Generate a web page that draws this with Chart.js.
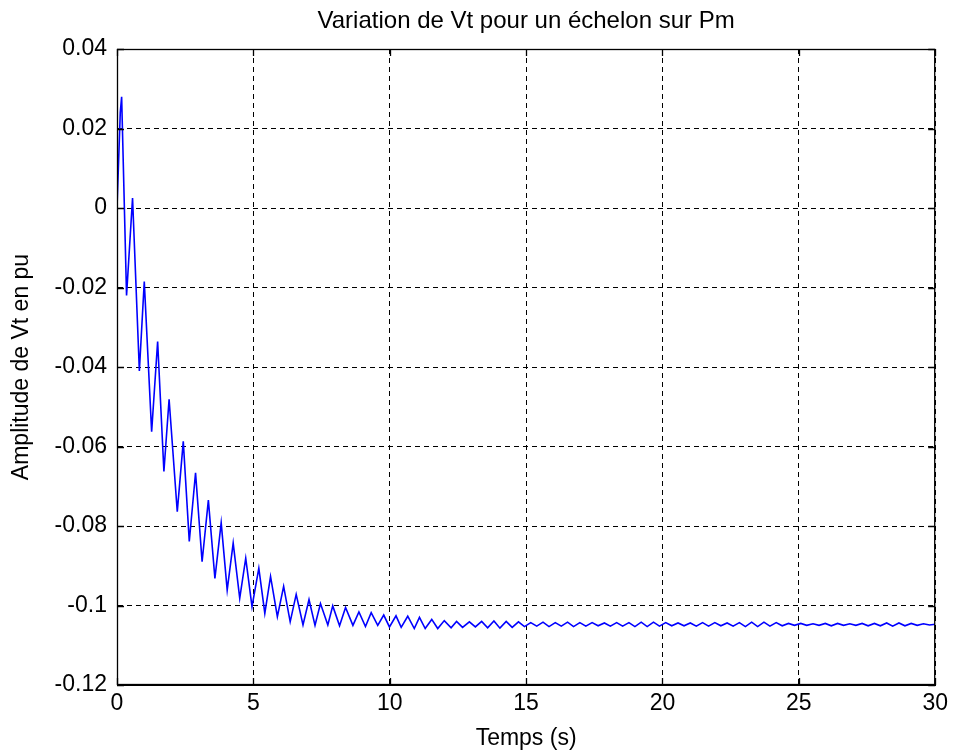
<!DOCTYPE html>
<html>
<head>
<meta charset="utf-8">
<script src="https://cdn.jsdelivr.net/npm/chart.js@4"></script>
<style>
  html, body { margin: 0; padding: 0; background: #fff; }
  canvas { display: block; }
</style>
</head>
<body>
<canvas id="chart-vt" width="953" height="755"></canvas>
<script>
const titleText = 'Variation de Vt pour un échelon sur Pm';
const xLabel = 'Temps (s)';
const yLabel = 'Amplitude de Vt en pu';

// x axis ticks (s) and y axis ticks (pu)
const xTicks = [0, 5, 10, 15, 20, 25, 30];
const yTicks = [-0.12, -0.1, -0.08, -0.06, -0.04, -0.02, 0, 0.02, 0.04];

// peaks and troughs of Vt
const times = [
    0, 0.05, 0.12, 0.17, 0.35, 0.57, 0.82, 1.00, 1.27, 1.49,
    1.72, 1.91, 2.21, 2.43, 2.65, 2.88, 3.12, 3.35, 3.59, 3.82,
    4.04, 4.26, 4.50, 4.72, 4.95, 5.20, 5.42, 5.63, 5.88, 6.11,
    6.35, 6.57, 6.82, 7.04, 7.26, 7.46, 7.73, 7.91, 8.16, 8.38,
    8.65, 8.87, 9.11, 9.32, 9.56, 9.78, 9.99, 10.23, 10.42, 10.66,
    10.90, 11.09, 11.30, 11.54, 11.76, 12.00, 12.25, 12.45, 12.67, 12.92,
    13.14, 13.37, 13.59, 13.82, 14.04, 14.27, 14.49, 14.72, 14.94, 15.17,
    15.39, 15.62, 15.84, 16.07, 16.29, 16.52, 16.74, 16.97, 17.19, 17.42,
    17.64, 17.87, 18.09, 18.32, 18.54, 18.77, 18.99, 19.22, 19.44, 19.67,
    19.89, 20.12, 20.34, 20.57, 20.79, 21.02, 21.24, 21.47, 21.69, 21.92,
    22.14, 22.37, 22.59, 22.82, 23.04, 23.27, 23.49, 23.72, 23.94, 24.17,
    24.39, 24.62, 24.84, 25.07, 25.29, 25.52, 25.74, 25.97, 26.19, 26.42,
    26.64, 26.87, 27.09, 27.32, 27.54, 27.77, 27.99, 28.22, 28.44, 28.67,
    28.89, 29.12, 29.34, 29.57, 29.79, 30.00,
];
const vt = [
    0, 0.010, 0.024, 0.028, -0.022, 0.0025, -0.041, -0.0185, -0.0563, -0.0336,
    -0.0663, -0.0481, -0.0764, -0.0587, -0.0839, -0.0666, -0.0890, -0.0735, -0.0932, -0.0792,
    -0.0961, -0.0843, -0.0982, -0.0881, -0.1003, -0.0906, -0.1020, -0.0927, -0.1028, -0.0952,
    -0.1041, -0.0972, -0.1049, -0.0985, -0.1050, -0.0995, -0.1049, -0.1001, -0.1051, -0.1005,
    -0.1050, -0.1016, -0.1053, -0.1018, -0.1050, -0.1024, -0.1054, -0.1026, -0.1055, -0.1027,
    -0.1058, -0.1030, -0.1058, -0.1035, -0.1058, -0.1038, -0.1056, -0.1040, -0.1055, -0.1041,
    -0.1054, -0.1040, -0.1056, -0.1039, -0.1057, -0.1040, -0.1055, -0.1041, -0.1053, -0.1043,
    -0.1052, -0.1042, -0.1053, -0.1043, -0.1052, -0.1042, -0.1053, -0.1043, -0.1052, -0.1043,
    -0.1051, -0.1044, -0.1052, -0.1043, -0.1052, -0.1043, -0.1053, -0.1042, -0.1053, -0.1042,
    -0.1052, -0.1043, -0.1051, -0.1044, -0.1051, -0.1044, -0.1052, -0.1043, -0.1052, -0.1043,
    -0.1051, -0.1044, -0.1052, -0.1043, -0.1053, -0.1042, -0.1053, -0.1042, -0.1052, -0.1043,
    -0.1051, -0.1045, -0.1050, -0.1045, -0.1050, -0.1046, -0.1050, -0.1045, -0.1051, -0.1045,
    -0.1050, -0.1046, -0.1050, -0.1045, -0.1051, -0.1045, -0.1051, -0.1044, -0.1052, -0.1044,
    -0.1051, -0.1045, -0.1050, -0.1046, -0.1049, -0.1047,
];

const FONT = { family: '"Liberation Sans", Arial, sans-serif', size: 23 };

// matlab-like frame: solid box, inward ticks and the title over the axes
const framePlugin = {
    id: 'frame',
    afterDraw(chart) {
        const { ctx, chartArea: a, scales } = chart;
        const tl = 7;
        ctx.save();
        ctx.strokeStyle = '#000';
        ctx.lineWidth = 1.3;
        ctx.setLineDash([]);
        ctx.strokeRect(a.left + 0.5, a.top + 0.5, a.right - a.left - 1, a.bottom - a.top - 1);
        ctx.beginPath();
        xTicks.forEach((v) => {
            const x = Math.round(scales.x.getPixelForValue(v)) + 0.5;
            ctx.moveTo(x, a.bottom); ctx.lineTo(x, a.bottom - tl);
            ctx.moveTo(x, a.top); ctx.lineTo(x, a.top + tl);
        });
        yTicks.forEach((v) => {
            const y = Math.round(scales.y.getPixelForValue(v)) + 0.5;
            ctx.moveTo(a.left, y); ctx.lineTo(a.left + tl, y);
            ctx.moveTo(a.right, y); ctx.lineTo(a.right - tl, y);
        });
        ctx.stroke();

        ctx.fillStyle = '#000';
        ctx.font = `24px ${FONT.family}`;
        ctx.textAlign = 'center';
        ctx.textBaseline = 'middle';
        ctx.fillText(titleText, (a.left + a.right) / 2, 21);
        ctx.restore();
    },
};

new Chart(document.getElementById('chart-vt'), {
    type: 'line',
    data: {
        datasets: [
            {
                label: 'Vt',
                data: times.map((t, i) => ({ x: t, y: vt[i] })),
                borderColor: '#0000ff',
                borderWidth: 1.6,
                pointRadius: 0,
                fill: false,
                tension: 0,
            },
        ],
    },
    options: {
        responsive: false,
        animation: false,
        layout: { padding: { left: 0, top: 49, right: 16, bottom: 0 } },
        plugins: {
            legend: { display: false },
            tooltip: { enabled: false },
        },
        scales: {
            x: {
                type: 'linear',
                min: 0,
                max: 30,
                afterFit: (s) => { s.height = 70; },
                afterBuildTicks: (s) => { s.ticks = xTicks.map((v) => ({ value: v })); },
                grid: { color: '#000', lineWidth: 1, drawTicks: false },
                border: { display: true, color: '#000', dash: [5, 4] },
                ticks: { color: '#000', font: FONT, padding: 5, maxRotation: 0 },
                title: { display: true, text: xLabel, color: '#000', font: FONT, padding: { top: 0, bottom: 3 } },
            },
            y: {
                type: 'linear',
                min: -0.12,
                max: 0.04,
                afterFit: (s) => { s.width = 117; },
                afterBuildTicks: (s) => { s.ticks = yTicks.map((v) => ({ value: v })); },
                grid: { color: '#000', lineWidth: 1, drawTicks: false },
                border: { display: true, color: '#000', dash: [5, 4] },
                ticks: {
                    color: '#000',
                    font: FONT,
                    padding: 10,
                    callback: (v) => String(Number(Number(v).toFixed(2))),
                },
                title: { display: true, text: yLabel, color: '#000', font: FONT, padding: { top: 8, bottom: 0 } },
            },
        },
    },
    plugins: [framePlugin],
});
</script>
</body>
</html>
